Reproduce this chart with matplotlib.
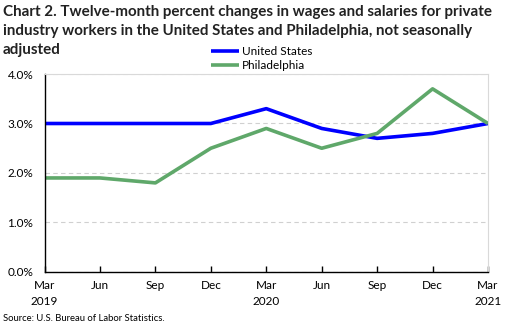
import matplotlib
matplotlib.use("Agg")
import matplotlib.pyplot as plt
from matplotlib.ticker import FuncFormatter

plt.rcParams['font.family'] = ['Lato', 'DejaVu Sans']

periods = ["Mar\n2019", "Jun", "Sep", "Dec", "Mar\n2020", "Jun", "Sep", "Dec", "Mar\n2021"]
united_states = [3.0, 3.0, 3.0, 3.0, 3.3, 2.9, 2.7, 2.8, 3.0]
philadelphia = [1.9, 1.9, 1.8, 2.5, 2.9, 2.5, 2.8, 3.7, 3.0]
yticks = [0.0, 1.0, 2.0, 3.0, 4.0]
title_lines = ["Chart 2. Twelve-month percent changes in wages and salaries for private",
               "industry workers in the United States and Philadelphia, not seasonally",
               "adjusted"]

W, H = 520, 327
fig = plt.figure(figsize=(W / 100, H / 100), dpi=100)
ax = fig.add_axes([0.0856, 0.1682, 0.8529, 0.6055])
x = list(range(len(periods)))
ax.plot(x, united_states, color="#0000ff", lw=2.6, label="United States", solid_capstyle="butt")
ax.plot(x, philadelphia, color="#5fa86a", lw=2.6, label="Philadelphia", solid_capstyle="butt")

ax.set_xlim(0, len(periods) - 1)
ax.set_ylim(0, 4)
ax.set_yticks(yticks)
ax.yaxis.set_major_formatter(FuncFormatter(lambda v, p: f"{v:.1f}%"))
ax.set_xticks(x)
ax.set_xticklabels(periods, fontsize=8.5, linespacing=1.55)
ax.tick_params(axis='y', length=0, labelsize=8.5, pad=8)
ax.tick_params(axis='x', length=4, width=1, direction='in', pad=6, color='black')
ax.grid(axis='y', color='#d0d0d0', ls=(0, (4, 3)), lw=0.8)
ax.set_axisbelow(True)
ax.spines['left'].set_color('black')
ax.spines['bottom'].set_color('black')
ax.spines['left'].set_linewidth(1)
ax.spines['bottom'].set_linewidth(1)
ax.spines['top'].set_color('#d9d9d9')
ax.spines['right'].set_color('#d9d9d9')

for line, ypx in zip(title_lines, [12, 31, 50]):
    fig.text(0.006, 1 - ypx / H, line, ha='left', va='center', fontsize=10.9,
             fontweight='bold', color='#222222')

leg = fig.legend(loc='upper left', bbox_to_anchor=(0.405, 0.86), frameon=False, fontsize=8.5,
                 handlelength=2.4, handletextpad=0.25, labelspacing=0.25, borderaxespad=0, borderpad=0)

fig.text(0.006, 0.012, "Source: U.S. Bureau of Labor Statistics.", ha='left', va='bottom', fontsize=6.8)

fig.savefig("out.png", dpi=100)
